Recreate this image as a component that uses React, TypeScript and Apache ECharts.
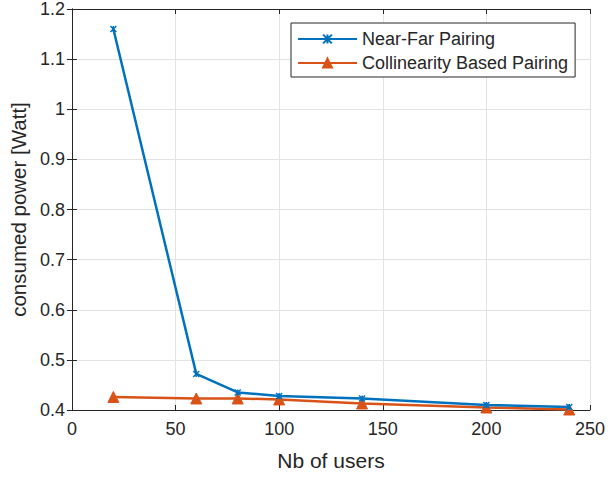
import React, { useEffect, useRef } from "react";
import * as echarts from "echarts";

const users = [20, 60, 80, 100, 140, 200, 240];
const nearFar = [1.16, 0.472, 0.435, 0.428, 0.423, 0.41, 0.406];
const collinearity = [0.426, 0.423, 0.423, 0.421, 0.413, 0.405, 0.401];
const seriesNames = ["Near-Far Pairing", "Collinearity Based Pairing"];

const FONT = "'Liberation Sans', Arial, Helvetica, sans-serif";
const AXIS = "#262626";
const GRID = "#e3e3e3";

export default function App() {
  const ref = useRef<HTMLDivElement>(null);
  useEffect(() => {
    if (!ref.current) return;
    const chart = echarts.init(ref.current, undefined, { renderer: "svg" });
    const pair = (xs: number[], ys: number[]) => xs.map((x, i) => [x, ys[i]]);
    const axisCommon = {
      axisLine: { show: true, lineStyle: { color: AXIS, width: 1 } },
      axisTick: { show: true, inside: true, length: 5, lineStyle: { color: AXIS } },
    };
    chart.setOption({
      animation: false,
      backgroundColor: "#ffffff",
      grid: { left: 68, right: 18, top: 8, bottom: 67, containLabel: false },
      legend: {
        left: 291,
        top: 23,
        orient: "vertical",
        data: seriesNames,
        borderColor: AXIS,
        borderWidth: 1,
        backgroundColor: "#ffffff",
        padding: [7, 7, 5, 6],
        itemGap: 6,
        itemWidth: 59,
        itemHeight: 11,
        textStyle: { fontFamily: FONT, fontSize: 18, color: AXIS },
      },
      xAxis: [
        {
          type: "value",
          min: 0,
          max: 250,
          interval: 50,
          position: "bottom",
          ...axisCommon,
          splitLine: { show: true, lineStyle: { color: GRID, width: 1 } },
          axisLabel: { fontFamily: FONT, fontSize: 18, color: AXIS, margin: 10 },
          name: "Nb of users",
          nameLocation: "middle",
          nameGap: 40,
          nameTextStyle: { fontFamily: FONT, fontSize: 21, color: AXIS },
        },
        {
          type: "value",
          min: 0,
          max: 250,
          interval: 50,
          position: "top",
          ...axisCommon,
          splitLine: { show: false },
          axisLabel: { show: false },
        },
      ],
      yAxis: [
        {
          type: "value",
          min: 0.4,
          max: 1.2,
          interval: 0.1,
          position: "left",
          ...axisCommon,
          splitLine: { show: true, lineStyle: { color: GRID, width: 1 } },
          axisLabel: {
            fontFamily: FONT,
            fontSize: 18,
            color: AXIS,
            margin: 7,
            formatter: (v: number) => String(Math.round(v * 10) / 10),
          },
          name: "consumed power [Watt]",
          nameLocation: "middle",
          nameGap: 41,
          nameTextStyle: { fontFamily: FONT, fontSize: 20.5, color: AXIS },
        },
        {
          type: "value",
          min: 0.4,
          max: 1.2,
          interval: 0.1,
          position: "right",
          ...axisCommon,
          splitLine: { show: false },
          axisLabel: { show: false },
        },
      ],
      series: [
        {
          name: seriesNames[0],
          type: "line",
          data: pair(users, nearFar),
          xAxisIndex: 0,
          yAxisIndex: 0,
          symbol: "path://M0,0L10,10M10,0L0,10M5,0L5,10",
          symbolSize: 6,
          showSymbol: true,
          lineStyle: { color: "#0072BD", width: 2.5 },
          itemStyle: { color: "#0072BD", borderColor: "#0072BD", borderWidth: 1.5 },
          z: 3,
        },
        {
          name: seriesNames[1],
          type: "line",
          data: pair(users, collinearity),
          xAxisIndex: 0,
          yAxisIndex: 0,
          symbol: "triangle",
          symbolSize: 11,
          showSymbol: true,
          lineStyle: { color: "#D95319", width: 2.5 },
          itemStyle: { color: "#D95319", borderColor: "#D95319", borderWidth: 1 },
          z: 2,
        },
      ],
    });
    return () => chart.dispose();
  }, []);
  return <div ref={ref} style={{ width: 608, height: 477, position: "absolute", left: 0, top: 0 }} />;
}
